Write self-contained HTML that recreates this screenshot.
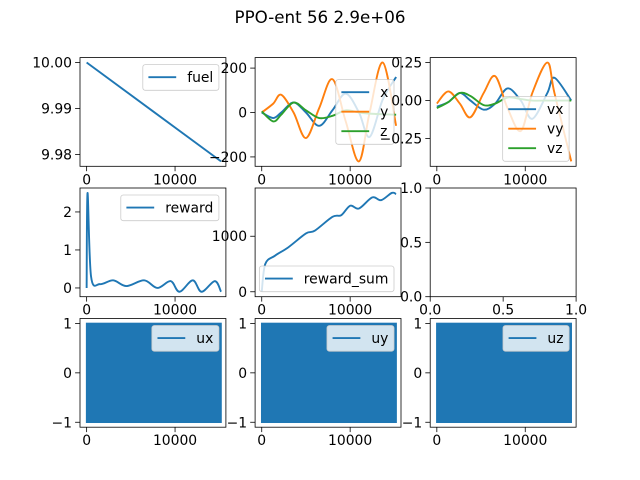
<!DOCTYPE html>
<html><head><meta charset="utf-8">
<style>
html,body{margin:0;padding:0;background:#fff;}
svg{display:block;font-family:"DejaVu Sans","Liberation Sans",sans-serif;}
</style></head>
<body>
<svg id="fig" width="640" height="480" viewBox="0 0 640 480">
<rect width="640" height="480" fill="#fff"/>
<text x="320" y="23" font-size="16.7" text-anchor="middle">PPO-ent 56 2.9e+06</text>
</svg>
<script>
// ---- data ----
const fuelT = [0, 15200];
const fuelV = [10.0, 9.9785];
const posT = [0,1300,2200,3600,5000,6500,8000,9500,11000,12200,13700,15200];
const posX = [0,-25,0,45,0,-60,10,85,0,-110,60,160];
const posY = [0,40,80,0,-115,20,150,-40,-220,0,225,-60];
const posZ = [5,-40,-10,45,10,-25,-15,10,0,-5,-8,-10];
const velT = [0,1300,2600,3800,5300,6600,8000,9500,10800,12500,13300,15200];
const velX = [-0.04,-0.01,0.05,0.0,-0.06,-0.02,0.08,0.0,-0.12,0.05,0.15,0.0];
const velY = [-0.02,0.06,-0.02,-0.11,0.05,0.16,-0.05,-0.2,0.05,0.25,0.05,-0.4];
const velZ = [-0.05,-0.01,0.05,0.03,-0.03,-0.02,0.02,0.01,0.0,0.0,0.0,0.0];
const rewT = [0,100,500,1500,3000,4500,6500,8000,9500,10500,12000,13000,14500,15200];
const rewV = [0,2.5,0.3,0.1,0.2,0.05,0.2,0.0,0.18,-0.1,0.2,-0.1,0.18,-0.1];
const sumT = [0,400,1500,3000,5000,6000,8000,9000,10000,11000,12500,13500,14700,15200];
const sumV = [0,500,650,800,1050,1100,1350,1380,1550,1500,1700,1650,1780,1760];
const uRange = [-1, 1];
const uT = [0, 15200];
const xTicks = [0, 10000];
const xTickLabels = ['0', '10000'];
const emptyTicks = [0, 0.5, 1];
const emptyTickLabels = ['0.0', '0.5', '1.0'];

const NS='http://www.w3.org/2000/svg';
const svg=document.getElementById('fig');
const C=['#1f77b4','#ff7f0e','#2ca02c'];
const ctx=document.createElement('canvas').getContext('2d');
ctx.font='13.9px "DejaVu Sans", "Liberation Sans", sans-serif';
function mk(tag,attrs,parent){const e=document.createElementNS(NS,tag);for(const k in attrs)e.setAttribute(k,attrs[k]);(parent||svg).appendChild(e);return e;}
const colL=[80,255.1,430.2], W=145.9, rowT=[57.6,188.0,318.5], H=108.7;

function lims(arrs,m){let lo=Infinity,hi=-Infinity;arrs.forEach(a=>a.forEach(v=>{lo=Math.min(lo,v);hi=Math.max(hi,v);}));const d=(hi-lo)*m;return [lo-d,hi+d];}

function smoothPath(xs,ys){let d='M'+xs[0]+','+ys[0];
 for(let i=0;i<xs.length-1;i++){const x0=xs[Math.max(i-1,0)],y0=ys[Math.max(i-1,0)],x1=xs[i],y1=ys[i],x2=xs[i+1],y2=ys[i+1],x3=xs[Math.min(i+2,xs.length-1)],y3=ys[Math.min(i+2,xs.length-1)];
  d+=' C'+(x1+(x2-x0)/6)+','+(y1+(y2-y0)/6)+' '+(x2-(x3-x1)/6)+','+(y2-(y3-y1)/6)+' '+x2+','+y2;}
 return d;}

function axes(r,c,name,xl,yl,yt,ytl,xt,xtl){
 const L=colL[c],T=rowT[r];
 const g=mk('g',{});
 
 
 const sx=v=>L+(v-xl[0])/(xl[1]-xl[0])*W, sy=v=>T+H-(v-yl[0])/(yl[1]-yl[0])*H;
 const clipId='clip-'+name;
 const cp=mk('clipPath',{id:clipId},g);mk('rect',{x:L,y:T,width:W,height:H},cp);
 const plot=mk('g',{'clip-path':'url(#'+clipId+')'},g);
 return {g,plot,sx,sy,L,T,finish(){
  mk('rect',{x:L,y:T,width:W,height:H,fill:'none',stroke:'#000','stroke-width':0.8},g);
  xt.forEach((v,i)=>{const x=sx(v);mk('line',{x1:x,x2:x,y1:T+H,y2:T+H+4.9,stroke:'#000','stroke-width':0.8},g);
   const t=mk('text',{x:x,y:T+H+18,'font-size':13.9,'text-anchor':'middle'},g);t.textContent=xtl[i];
   
   });
  yt.forEach((v,i)=>{const y=sy(v);mk('line',{x1:L,x2:L-4.9,y1:y,y2:y,stroke:'#000','stroke-width':0.8},g);
   const t=mk('text',{x:L-8,y:y+5,'font-size':13.9,'text-anchor':'end'},g);t.textContent=ytl[i];
   
   });
 }};
}
function line(ax,ts,vs,col){const p=mk('path',{d:smoothPath(ts.map(ax.sx),vs.map(ax.sy)),fill:'none',stroke:col,'stroke-width':1.9},ax.plot);
 
 }
function legend(ax,labels,pos){
 const fs=13.9,pad=5.6,hl=27.8,htp=11,rs=19.5;
 const tw=Math.max(...labels.map(s=>ctx.measureText(s).width));
 const w=pad*2+hl+htp+tw, h=pad*2+labels.length*rs-5;
 let x=ax.L+W-7-w, y=ax.T+7;
 if(pos==='lower') y=ax.T+H-5-h;
 if(pos==='center') y=ax.T+H/2-h/2;
 const lg=mk('g',{},ax.g);
 
 
 mk('rect',{x,y,width:w,height:h,rx:2.5,fill:'rgba(255,255,255,0.8)',stroke:'#cccccc','stroke-width':0.8},lg);
 labels.forEach((s,i)=>{const cy=y+pad+i*rs+7;
  mk('line',{x1:x+pad,x2:x+pad+hl,y1:cy,y2:cy,stroke:C[i],'stroke-width':1.9},lg);
  const t=mk('text',{x:x+pad+hl+htp,y:cy+5,'font-size':fs},lg);t.textContent=s;
  
  });
}
const xl=[-750,15750];

// fuel
let a=axes(0,0,'fuel',xl,lims([fuelV],0.05),[9.98,9.99,10.0],['9.98','9.99','10.00'],xTicks,xTickLabels);
line(a,fuelT,fuelV,C[0]);a.finish();legend(a,['fuel'],'upper');
// position
a=axes(0,1,'position',xl,lims([posX,posY,posZ],0.05),[-200,0,200],['\u2212200','0','200'],xTicks,xTickLabels);
line(a,posT,posX,C[0]);line(a,posT,posY,C[1]);line(a,posT,posZ,C[2]);a.finish();legend(a,['x','y','z'],'center');
// velocity
a=axes(0,2,'velocity',xl,lims([velX,velY,velZ],0.05),[-0.25,0,0.25],['\u22120.25','0.00','0.25'],xTicks,xTickLabels);
line(a,velT,velX,C[0]);line(a,velT,velY,C[1]);line(a,velT,velZ,C[2]);a.finish();legend(a,['vx','vy','vz'],'lower');
// reward
a=axes(1,0,'reward',xl,lims([rewV],0.05),[0,1,2],['0','1','2'],xTicks,xTickLabels);
line(a,rewT,rewV,C[0]);a.finish();legend(a,['reward'],'upper');
// reward sum
a=axes(1,1,'reward-sum',xl,lims([sumV],0.05),[0,1000],['0','1000'],xTicks,xTickLabels);
line(a,sumT,sumV,C[0]);a.finish();legend(a,['reward_sum'],'lower');
// empty
a=axes(1,2,'empty',[0,1],[0,1],emptyTicks,emptyTickLabels,emptyTicks,emptyTickLabels);a.finish();
// controls
['ux','uy','uz'].forEach((n,i)=>{
 const ax=axes(2,i,n,xl,lims([uRange],0.05),[-1,0,1],['\u22121','0','1'],xTicks,xTickLabels);
 const r=mk('rect',{x:ax.sx(uT[0]),y:ax.sy(uRange[1]),width:ax.sx(uT[1])-ax.sx(uT[0]),height:ax.sy(uRange[0])-ax.sy(uRange[1]),fill:C[0],stroke:C[0],'stroke-width':1.5},ax.plot);
 
 
 ax.finish();legend(ax,[n],'upper');
});
</script>
</body></html>
